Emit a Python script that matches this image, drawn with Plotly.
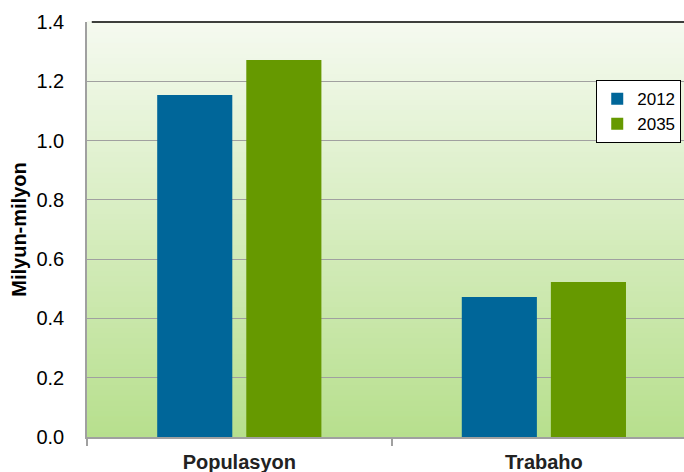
import plotly.graph_objects as go

categories = ["Populasyon", "Trabaho"]
series_names = ["2012", "2035"]
values_2012 = [1.154, 0.472]
values_2035 = [1.272, 0.523]
y_ticks = [0.0, 0.2, 0.4, 0.6, 0.8, 1.0, 1.2, 1.4]
y_tick_labels = ["0.0", "0.2", "0.4", "0.6", "0.8", "1.0", "1.2", "1.4"]

colors = ["#006699", "#669900"]

fig = go.Figure()
fig.add_trace(go.Bar(x=categories, y=values_2012, name=series_names[0], marker=dict(color=colors[0], line=dict(width=0))))
fig.add_trace(go.Bar(x=categories, y=values_2035, name=series_names[1], marker=dict(color=colors[1], line=dict(width=0))))

# gradient background
top = (245, 250, 240)
bot = (183, 223, 141)
n = 80
shapes = []
for i in range(n):
    t = i / n
    c = tuple(round(bot[k] + (top[k] - bot[k]) * (t + 0.5 / n)) for k in range(3))
    shapes.append(dict(type="rect", xref="x domain", yref="y domain", x0=0, x1=1,
                       y0=t, y1=(i + 1) / n + 0.002, fillcolor="rgb(%d,%d,%d)" % c,
                       line=dict(width=0), layer="below"))
shapes.append(dict(type="line", xref="x domain", yref="y domain", x0=0.008, x1=1, y0=1, y1=1,
                   line=dict(color="#000000", width=1.5), layer="above"))

FONT = "Liberation Sans, Arial, sans-serif"

fig.update_layout(
    width=684, height=472,
    margin=dict(l=87, r=0, t=22, b=35),
    paper_bgcolor="white",
    plot_bgcolor="rgba(0,0,0,0)",
    barmode="group",
    bargap=0.415,
    bargroupgap=0.157,
    shapes=shapes,
    font=dict(family=FONT, color="#000000"),
    showlegend=True,
    legend=dict(x=0.853, y=0.86, xanchor="left", yanchor="top",
                bgcolor="white", bordercolor="#000000", borderwidth=1,
                font=dict(size=17), itemwidth=30, tracegroupgap=4),
    xaxis=dict(range=[-0.5, 1.46], showgrid=False, showline=True, linecolor="#a0a0a0", linewidth=1.5,
               tickson="boundaries", ticks="outside", ticklen=7, tickcolor="#a0a0a0", tickwidth=1.5,
               tickfont=dict(size=20, family=FONT, weight="bold", color="#222222"),
               ticklabelstandoff=6, automargin=False),
    yaxis=dict(range=[0, 1.4], tickvals=y_ticks, ticktext=y_tick_labels,
               showgrid=True, gridcolor="#a0a0a0", gridwidth=1,
               showline=True, linecolor="#a0a0a0", linewidth=1.5,
               zeroline=False, ticks="", tickfont=dict(size=20),
               ticklabelstandoff=17, automargin=False,
               title=dict(text="<b>Milyun-milyon</b>", font=dict(size=20), standoff=4)),
)

fig.write_html("out.html", config={"displayModeBar": False},
               post_script="document.body.style.margin='0';document.body.style.overflow='hidden';")
